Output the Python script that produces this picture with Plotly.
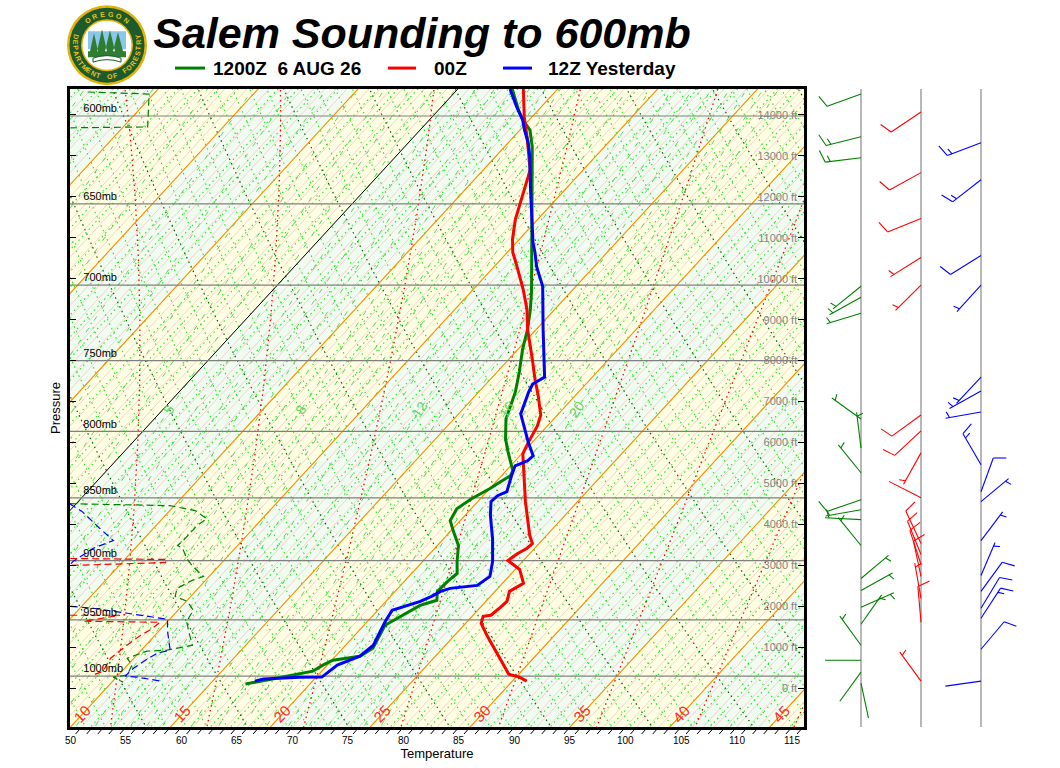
import numpy as np
import plotly.graph_objects as go

# ============================================================================
# SOUNDING DATA  (pressure in mb, temperature / dewpoint in deg F)
# ============================================================================

series_names = ["1200Z  6 AUG 26", "00Z", "12Z Yesterday"]
series_colors = ["#008000", "#FF0000", "#0000FF"]

# 1200Z today - temperature
p_12z = [585.4, 596.7, 602.1, 606.5, 607.7, 617.1, 635.9, 655.2, 675.8, 704.7,
         715.7, 728.8, 742.1, 757.8, 771.7, 783.8, 791.0, 805.4, 815.0, 829.2,
         833.0, 837.5, 842.9, 850.6, 858.4, 867.8, 876.5, 887.7, 900.7, 910.6,
         917.2, 925.6, 933.2, 937.5, 946.0, 954.7, 974.8, 982.0, 985.6, 990.0,
         995.5, 999.1, 1001.8, 1004.6, 1007.3]
t_12z = [36.9, 39.2, 40.4, 41.6, 41.9, 43.5, 46.2, 48.9, 51.7, 55.5,
         56.8, 58.2, 59.4, 61.0, 62.3, 63.2, 63.7, 65.3, 66.6, 68.6,
         68.8, 68.4, 68.0, 67.2, 66.7, 67.1, 68.3, 69.9, 71.1, 72.1,
         71.9, 71.8, 72.5, 71.4, 70.7, 69.9, 70.7, 70.2, 68.1, 67.6,
         67.2, 65.8, 64.6, 63.3, 62.2]

# 00Z - temperature
p_00z = [585.4, 600.5, 611.5, 622.7, 630.1, 634.1, 643.5, 653.4, 659.4, 671.5,
         679.5, 685.1, 694.5, 702.8, 715.7, 728.8, 748.9, 762.7, 774.6, 788.1,
         796.0, 803.3, 809.1, 816.5, 822.4, 840.6, 852.9, 866.2, 879.7, 886.1,
         890.1, 894.2, 899.9, 907.3, 918.9, 925.6, 934.1, 939.2, 946.0, 946.9,
         953.0, 963.4, 983.8, 998.2, 1000.9, 1004.6]
t_00z = [37.9, 40.3, 42.2, 44.0, 45.2, 45.6, 46.5, 47.4, 48.0, 49.4,
         50.5, 51.5, 53.1, 54.5, 56.5, 58.2, 61.1, 63.0, 64.7, 66.5,
         67.1, 67.4, 67.7, 68.1, 68.8, 70.9, 72.3, 73.9, 75.5, 76.4,
         76.3, 75.9, 75.6, 77.4, 78.9, 78.3, 78.9, 78.8, 78.6, 78.0,
         78.4, 79.9, 83.0, 85.1, 86.3, 87.3]

# 12Z yesterday - temperature
p_12y = [585.4, 595.1, 602.1, 607.7, 614.8, 622.7, 641.7, 661.3, 673.4, 679.5,
         688.2, 694.5, 700.8, 728.8, 761.3, 766.1, 771.7, 781.6, 787.3, 798.1,
         807.7, 818.0, 821.7, 825.5, 833.0, 845.2, 848.3, 852.9, 863.8, 882.1,
         900.7, 913.1, 920.6, 923.1, 925.6, 929.9, 934.1, 941.8, 951.2, 972.2,
         982.0, 990.0, 1000.9, 1001.0, 1002.7, 1004.6]
t_12y = [36.7, 38.8, 40.4, 41.4, 42.8, 44.1, 46.9, 49.8, 51.5, 52.5,
         53.8, 54.9, 56.0, 59.6, 63.7, 63.2, 63.5, 64.2, 64.6, 66.2,
         67.6, 69.2, 69.1, 68.4, 68.9, 69.8, 69.3, 69.2, 70.3, 72.4,
         74.3, 75.3, 74.9, 72.7, 72.1, 71.7, 71.1, 69.3, 69.6, 70.5,
         70.2, 68.9, 68.5, 66.5, 63.4, 62.8]

# dewpoints (None = the trace runs off the left side of the chart)
pd_12z = [587.0, 588.1, 606.0, 606.5, None,
          854.5, 856.0, 859.9, 866.2, 871.7, 883.7, 887.7, 890.1, 898.3, 904.8,
          913.1, 916.4, 923.1, 929.9, 934.1, 941.8, 951.2, 959.9, 972.2, 976.6,
          977.5, 983.8, 990.0, 999.1, 1000.9, 1005.5]
td_12z = [-1.1, 4.6, 7.2, 0.3, None,
          31.4, 40.6, 43.3, 45.0, 44.7, 44.7, 44.6, 45.3, 46.5, 47.7,
          49.5, 48.8, 48.1, 48.6, 50.1, 51.4, 51.7, 52.7, 54.2, 52.3,
          50.6, 49.4, 50.4, 50.8, 49.7, 51.0]

pd_00z = [898.3, 899.1, 901.6, 904.0, None,
          946.0, 946.0, 951.2, 952.1, 959.1, 963.4, 972.2, 983.8, 995.5, 999.1]
td_00z = [36.0, 44.8, 44.9, 36.6, None,
          40.7, 45.2, 42.4, 49.4, 49.1, 48.7, 48.3, 47.9, 48.3, 47.7]

pd_12y = [854.5, 860.7, 874.1, 879.7, 883.7, 890.1, 900.7, 903.2, None,
          938.3, 940.0, 944.3, 949.5, 959.9, 976.6, 979.3, 985.6, 992.8, 1000.0,
          1000.9, 1004.6]
td_12y = [31.4, 33.2, 36.2, 37.5, 38.4, 37.2, 36.5, 36.5, None,
          40.0, 42.2, 45.7, 49.8, 50.8, 52.6, 51.7, 51.2, 50.8, 50.7,
          51.9, 54.3]

# winds (pressure mb, direction deg, speed kt)
wp_12z = [588.1, 611.5, 623.3, 700.8, 707.9, 718.3, 791.0, 812.1, 830.7, 851.4,
          859.2, 867.0, 887.7, 914.8, 924.8, 939.2, 953.8, 972.2, 985.6, 996.4, 1006.4]
wd_12z = [250, 256, 263, 231, 241, 253, 306, 353, 321, 251,
          260, 273, 321, 50, 61, 66, 35, 324, 270, 216, 168]
ws_12z = [10, 15, 15, 5, 5, 5, 5, 5, 5, 10,
          5, 5, 5, 5, 5, 5, 5, 5, 2, 2, 2]

wp_00z = [597.8, 631.8, 658.8, 682.7, 700.0, 788.1, 799.6, 815.8, 849.8, 886.1,
          895.0, 903.2, 913.1, 931.6, 952.1, 1004.6]
wd_00z = [236, 241, 248, 238, 225, 234, 227, 209, 297, 335,
          338, 342, 348, 350, 355, 324]
ws_00z = [10, 10, 10, 5, 5, 10, 10, 5, 2, 10,
          10, 10, 10, 5, 10, 5]

wp_12y = [614.8, 635.9, 681.4, 700.0, 761.3, 771.1, 785.9, 824.7, 845.2, 852.9,
          883.7, 912.3, 925.6, 940.0, 948.6, 975.8, 1004.6]
wd_12y = [249, 232, 238, 222, 223, 241, 260, 330, 20, 50,
          37, 23, 36, 31, 33, 40, 262]
ws_12y = [15, 15, 10, 5, 5, 5, 5, 15, 10, 5,
          5, 5, 10, 10, 15, 10, 2]

# axis labels
pressure_levels = [600, 650, 700, 750, 800, 850, 900, 950, 1000]
temp_ticks = list(range(50, 120, 5))
height_ticks = list(range(0, 15000, 1000))
isotherm_labels = [10, 15, 20, 25, 30, 35, 40, 45]   # deg C
mixing_labels = [5, 8, 12, 16, 20]                   # g/kg

# ============================================================================
# CHART GEOMETRY
# ============================================================================

P_BOT, P_TOP = 1047.5, 585.4       # pressure at bottom / top of plot
T_LEFT, T_RIGHT = 49.95, 116.08    # deg F at the bottom edge
SKEW = 90.9                        # deg F of skew per ln(p)
FT_RANGE = [-950, 14634]
PLOT_H = 640
L_MARGIN, R_MARGIN, T_MARGIN, B_MARGIN = 70, 20, 89, 39
MAIN_FRAC = (804 - 70) / 970.0
BARB_COLS = [861, 921, 981]
STAFF, FEATHER = 36, 13
DOT = "1.5px,3.5px"
FONT = "Liberation Sans"


def px(x, y):
    """pixel position -> paper coords (for title block decorations)"""
    return (x - L_MARGIN) / 970.0, (768 - B_MARGIN - y) / float(PLOT_H)


def skew_xy(temps, pres):
    xs, ys = [], []
    for t, p in zip(temps, pres):
        if t is None:
            xs.append(None)
            ys.append(None)
        else:
            xs.append(t + SKEW * np.log(P_BOT / p))
            ys.append(p)
    return xs, ys


def c_to_f(c):
    return np.asarray(c) * 9.0 / 5.0 + 32.0


def lines_trace(curves, color, width, dash=None):
    xs, ys = [], []
    for t_curve, p_curve in curves:
        x, y = skew_xy(t_curve, p_curve)
        xs += x + [None]
        ys += y + [None]
    return go.Scatter(x=xs, y=ys, mode="lines", hoverinfo="skip", showlegend=False,
                      line=dict(color=color, width=width, dash=dash))


p_curve = np.geomspace(P_BOT + 10, P_TOP - 10, 60)
p_ends = np.array([P_BOT + 10, P_TOP - 10])


def isotherm(t_f):
    return [t_f, t_f], list(p_ends)


def dry_adiabat(theta_c):
    tk = (theta_c + 273.15) * (p_curve / 1000.0) ** 0.2857
    return list(c_to_f(tk - 273.15)), list(p_curve)


def moist_adiabat(tw_c):
    rd, cp, lv, eps = 287.04, 1005.7, 2.501e6, 0.622

    def dtdp(t, p):
        tc = t - 273.15
        es = 6.112 * np.exp(17.67 * tc / (tc + 243.5))
        rs = eps * es / (p - es)
        return (rd * t + lv * rs) / (p * (cp + lv * lv * rs * eps / (rd * t * t)))

    out = {}
    for p_end in (P_TOP - 10, P_BOT + 10):
        t, p = tw_c + 273.15, 1000.0
        n = 120
        h = (p_end - p) / n
        pts = []
        for _ in range(n):
            k1 = dtdp(t, p)
            k2 = dtdp(t + h * k1 / 2, p + h / 2)
            k3 = dtdp(t + h * k2 / 2, p + h / 2)
            k4 = dtdp(t + h * k3, p + h)
            t += h * (k1 + 2 * k2 + 2 * k3 + k4) / 6
            p += h
            pts.append((p, t))
        out[p_end] = pts
    pts = out[P_TOP - 10][::-1] + [(1000.0, tw_c + 273.15)] + out[P_BOT + 10]
    return [float(c_to_f(t - 273.15)) for _, t in pts], [p for p, _ in pts]


def mixing_line(w):
    e = w * p_curve / (622.0 + w)
    ln = np.log(e / 6.112)
    td = 243.5 * ln / (17.67 - ln)
    return list(c_to_f(td)), list(p_curve)


def barb_paths(x_base, pres, dirs, speeds):
    k = PLOT_H / np.log10(P_BOT / P_TOP)   # pixels per log10(p)
    xs, ys = [], []
    for p, d, s in zip(pres, dirs, speeds):
        a = np.radians(90 - d)
        u = np.array([np.cos(a), np.sin(a)])
        f = np.array([np.cos(a - np.radians(70)), np.sin(a - np.radians(70))])
        segs = [(np.zeros(2), STAFF * u)]
        full, half = s // 10, (s % 10) >= 5
        pos = STAFF
        for _ in range(full):
            segs.append((pos * u, pos * u + FEATHER * f))
            pos -= 5
        if half:
            if full == 0:
                pos -= 4
            segs.append((pos * u, pos * u + FEATHER / 2.0 * f))
        for a0, a1 in segs:
            for pt in (a0, a1):
                xs.append(x_base + pt[0])
                ys.append(10 ** (np.log10(p) - pt[1] / k))
            xs.append(None)
            ys.append(None)
    return xs, ys


# ============================================================================
# FIGURE
# ============================================================================

fig = go.Figure()

# alternating background bands between the 5 C isotherms
for parity, fill in [(0, "#F0FCF0"), (1, "#FFFFE3")]:
    band_x, band_y = [], []
    for c in range(-25, 55, 5):
        if (c // 5) % 2 == parity:
            t1, t2 = c_to_f(c), c_to_f(c + 5)
            x, y = skew_xy([t1, t2, t2, t1, t1],
                           [p_ends[0], p_ends[0], p_ends[1], p_ends[1], p_ends[0]])
            band_x += x + [None]
            band_y += y + [None]
    fig.add_trace(go.Scatter(x=band_x, y=band_y, mode="lines", fill="toself",
                             fillcolor=fill, line=dict(width=0),
                             hoverinfo="skip", showlegend=False))

# thin pink isotherms every 1 F
fig.add_trace(lines_trace([isotherm(t) for t in range(-10, 120)], "#F6C6C6", 0.8))
# bright green dotted isotherms and dry adiabats every 1 C
fig.add_trace(lines_trace([isotherm(float(c_to_f(c))) for c in range(-25, 50) if c % 5],
                          "#22E622", 1.1, DOT))
fig.add_trace(lines_trace([dry_adiabat(th) for th in range(0, 76) if th % 5],
                          "#22E622", 1.1, DOT))
# dark green dotted dry adiabats every 5 C
fig.add_trace(lines_trace([dry_adiabat(th) for th in range(0, 80, 5)], "#006400", 1.2, DOT))
# red dotted moist adiabats
fig.add_trace(lines_trace([moist_adiabat(tw) for tw in range(10, 50, 5)], "#FF0000", 1.3, DOT))
# green dashed mixing ratio lines
mix_values = [w / 2.0 for w in range(2, 20)] + list(range(10, 21))
fig.add_trace(lines_trace([mixing_line(w) for w in mix_values], "#5CD65C", 1, "5px,9px"))
# orange isotherms every 5 C, black freezing line
fig.add_trace(lines_trace([isotherm(float(c_to_f(c))) for c in range(-25, 55, 5) if c != 0],
                          "#FF8C00", 1.1))
fig.add_trace(lines_trace([isotherm(32.0)], "#000000", 1))
# grey mandatory pressure lines
gx, gy = [], []
for p in pressure_levels:
    gx += [T_LEFT - 1, T_RIGHT + 1, None]
    gy += [p, p, None]
fig.add_trace(go.Scatter(x=gx, y=gy, mode="lines", line=dict(color="#808080", width=1.2),
                         hoverinfo="skip", showlegend=False))

# dewpoints (thin dashed) and temperatures (thick)
for (tds, pds), color in zip([(td_12z, pd_12z), (td_00z, pd_00z), (td_12y, pd_12y)], series_colors):
    x, y = skew_xy(tds, pds)
    fig.add_trace(go.Scatter(x=x, y=y, mode="lines", showlegend=False,
                             line=dict(color=color, width=1.2, dash="7px,4px")))
for (ts, ps), color, name in zip([(t_12z, p_12z), (t_00z, p_00z), (t_12y, p_12y)],
                                 series_colors, series_names):
    x, y = skew_xy(ts, ps)
    fig.add_trace(go.Scatter(x=x, y=y, mode="lines", name=name, showlegend=False,
                             line=dict(color=color, width=3)))

# height axis needs a trace to exist
fig.add_trace(go.Scatter(x=[T_LEFT], y=[0], yaxis="y2", mode="markers",
                         marker=dict(opacity=0), hoverinfo="skip", showlegend=False))

# wind barb columns
for col in BARB_COLS:
    fig.add_trace(go.Scatter(x=[col, col], y=[P_BOT, P_TOP], mode="lines", xaxis="x2", yaxis="y3",
                             line=dict(color="#888888", width=1.2), hoverinfo="skip", showlegend=False))
for col, (wp, wd, ws), color in zip(BARB_COLS, [(wp_12z, wd_12z, ws_12z), (wp_00z, wd_00z, ws_00z),
                                                (wp_12y, wd_12y, ws_12y)], series_colors):
    bx, by = barb_paths(col, wp, wd, ws)
    fig.add_trace(go.Scatter(x=bx, y=by, mode="lines", xaxis="x2", yaxis="y3",
                             line=dict(color=color, width=1.1), hoverinfo="skip", showlegend=False))

# ----------------------------------------------------------------------------
# labels on the diagram
# ----------------------------------------------------------------------------
annotations = []
p_lab = 1035.1
for c in isotherm_labels:
    x, _ = skew_xy([float(c_to_f(c))], [p_lab])
    annotations.append(dict(x=x[0], y=np.log10(p_lab), xref="x", yref="y", text=str(c),
                            showarrow=False, textangle=-47,
                            font=dict(family=FONT, size=15, color="#FF2A2A")))
p_mix = 786.0
for w in mixing_labels:
    t_w, _ = mixing_line(w)
    idx = int(np.argmin(np.abs(p_curve - p_mix)))
    x, _ = skew_xy([t_w[idx]], [p_curve[idx]])
    annotations.append(dict(x=x[0], y=np.log10(p_curve[idx]), xref="x", yref="y", text=str(w),
                            showarrow=False, textangle=-57,
                            font=dict(family=FONT, size=14, color="#66D466")))

# temperature tick labels (the axis would hide the ones at the frame corners)
for t in temp_ticks:
    annotations.append(dict(x=t, y=-14.0 / PLOT_H, xref="x", yref="paper", text=str(t),
                            showarrow=False, xanchor="center", yanchor="middle",
                            font=dict(family=FONT, size=10, color="black")))

# legend row
legend_pos = [(175, 205, 211), (388, 416, 432), (503, 532, 546)]
shapes = []
for (x0, x1, xt), color, name in zip(legend_pos, series_colors, series_names):
    a0, yy = px(x0, 68)
    a1, _ = px(x1, 68)
    shapes.append(dict(type="line", xref="paper", yref="paper", x0=a0, x1=a1, y0=yy, y1=yy,
                       line=dict(color=color, width=3)))
    at, _ = px(xt, 68)
    annotations.append(dict(x=at, y=yy, xref="paper", yref="paper",
                            text="<b>%s</b>" % name.replace("  ", "\u00a0 "),
                            showarrow=False, xanchor="left", yanchor="middle",
                            font=dict(family=FONT, size=19, color="black")))

# slanted hatch ticks under the temperature axis
for t in range(50, 117):
    shapes.append(dict(type="line", xref="x", yref="paper", x0=t - 0.55, x1=t, y0=-0.011, y1=0,
                       line=dict(color="black", width=1)))

# logo (Oregon Department of Forestry seal)
lx, ly = px(107, 45)
for r, fill in [(40, "#E3B20A"), (37.5, "#1D5B2C"), (26, "#E3B20A"), (24.5, "#FFFFFF")]:
    shapes.append(dict(type="circle", xref="paper", yref="paper", xsizemode="pixel", ysizemode="pixel",
                       xanchor=lx, yanchor=ly, x0=-r, x1=r, y0=-r, y1=r, fillcolor=fill,
                       line=dict(width=0)))
shapes.append(dict(type="path", xref="paper", yref="paper", xsizemode="pixel", ysizemode="pixel",
                   xanchor=lx, yanchor=ly, fillcolor="#8CC6EA", line=dict(width=0),
                   path="M -19,-4 L -19,14 L 19,14 L 19,-4 Z"))
shapes.append(dict(type="path", xref="paper", yref="paper", xsizemode="pixel", ysizemode="pixel",
                   xanchor=lx, yanchor=ly, fillcolor="#2E7D32", line=dict(width=0),
                   path="M -17,-6 L -13,12 L -9,-6 Z M -10,-6 L -5,16 L 0,-6 Z M -2,-6 L 3,15 L 8,-6 Z "
                        "M 6,-6 L 11,13 L 16,-6 Z M -19,-6 L 19,-6 L 19,-12 L -19,-12 Z"))
shapes.append(dict(type="path", xref="paper", yref="paper", xsizemode="pixel", ysizemode="pixel",
                   xanchor=lx, yanchor=ly, fillcolor="#FFFFFF", line=dict(color="#1D5B2C", width=1),
                   path="M -14,-13 Q 0,-8 14,-13 L 14,-17 Q 0,-12 -14,-17 Z"))


def arc_text(text, a_start, a_end, radius, bottom):
    angles = np.linspace(a_start, a_end, len(text))
    for ch, a in zip(text, angles):
        if ch == " ":
            continue
        ax = lx + radius * np.cos(np.radians(a)) / 970.0
        ay = ly + radius * np.sin(np.radians(a)) / float(PLOT_H)
        rot = (270 - a) if bottom else (90 - a)
        annotations.append(dict(x=ax, y=ay, xref="paper", yref="paper", text="<b>%s</b>" % ch,
                                showarrow=False, textangle=rot, xanchor="center", yanchor="middle",
                                font=dict(family=FONT, size=7, color="#E8C21A")))


arc_text("OREGON", 128, 52, 31.5, False)
arc_text("DEPARTMENT OF FORESTRY", 165, 375, 31.5, True)

fig.update_layout(
    width=1060, height=768,
    margin=dict(l=L_MARGIN, r=R_MARGIN, t=T_MARGIN, b=B_MARGIN),
    paper_bgcolor="white", plot_bgcolor="white",
    title=dict(text="<b><i>Salem Sounding to 600mb</i></b>", x=422 / 1060.0, xanchor="center",
               y=1 - 33 / 768.0, yanchor="middle", xref="container", yref="container",
               font=dict(family=FONT, size=43, color="black")),
    xaxis=dict(domain=[0, MAIN_FRAC], range=[T_LEFT, T_RIGHT], tickvals=temp_ticks,
               showticklabels=False, ticks="",
               showgrid=False, zeroline=False, showline=True, linewidth=3, linecolor="black",
               mirror=True,
               title=dict(text="Temperature", standoff=20,
                          font=dict(family=FONT, size=13, color="black"))),
    yaxis=dict(type="log", range=[np.log10(P_BOT), np.log10(P_TOP)], tickvals=pressure_levels,
               ticktext=["%dmb" % p for p in pressure_levels], ticklabelposition="inside top",
               ticks="", ticklabelstandoff=11,
               tickfont=dict(family=FONT, size=11, color="black"),
               showgrid=False, zeroline=False, showline=True, linewidth=3, linecolor="black",
               mirror=True,
               title=dict(text="Pressure", standoff=20,
                          font=dict(family=FONT, size=13, color="black"))),
    yaxis2=dict(overlaying="y", side="right", anchor="x", range=FT_RANGE, tickvals=height_ticks,
                ticktext=["%d ft" % h for h in height_ticks], ticklabelposition="inside",
                ticks="inside", ticklen=6, tickcolor="black", mirror="ticks",
                tickfont=dict(family=FONT, size=11, color="#848484"),
                showgrid=False, zeroline=False, showline=False),
    xaxis2=dict(domain=[MAIN_FRAC, 1], range=[804, 1040], anchor="y3", visible=False),
    yaxis3=dict(type="log", range=[np.log10(P_BOT), np.log10(P_TOP)], anchor="x2",
                domain=[0, 1], visible=False),
    shapes=shapes,
    annotations=annotations,
    showlegend=False,
)

fig.write_html("out.html", config={"displayModeBar": False},
               post_script="document.body.style.margin='0px';")
